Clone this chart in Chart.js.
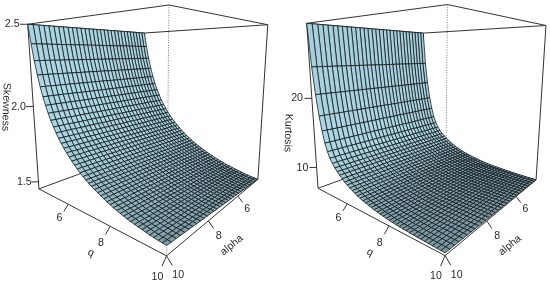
<!DOCTYPE html>
<html><head><meta charset="utf-8">
<style>html,body{margin:0;padding:0;background:#fff}canvas{position:absolute;top:0}</style>
<script src="https://cdn.jsdelivr.net/npm/chart.js@4/dist/chart.umd.js"></script></head>
<body><canvas id="a" width="275" height="285" style="left:0"></canvas><canvas id="b" width="275" height="285" style="left:275px"></canvas>
<script>
const qValues=[4.2,4.33,4.46,4.6,4.73,4.86,4.99,5.12,5.25,5.39,5.52,5.65,5.78,5.91,6.05,6.18,6.31,6.44,6.57,6.7,6.84,6.97,7.1,7.23,7.36,7.5,7.63,7.76,7.89,8.02,8.15,8.29,8.42,8.55,8.68,8.81,8.95,9.08,9.21,9.34,9.47,9.6,9.74,9.87,10];
const alphaValues=[4.2,4.39,4.59,4.78,4.97,5.17,5.36,5.55,5.75,5.94,6.13,6.33,6.52,6.71,6.91,7.1,7.29,7.49,7.68,7.87,8.07,8.26,8.45,8.65,8.84,9.03,9.23,9.42,9.61,9.81,10];
// skewness x 1000, one row per q, one column per alpha
const skewMilli=[
[2500,2500,2500,2500,2500,2500,2500,2500,2500,2500,2500,2500,2500,2500,2500,2500,2500,2500,2500,2500,2500,2500,2500,2500,2500,2500,2500,2500,2500,2500,2500],
[2385,2385,2385,2385,2385,2385,2385,2385,2385,2385,2385,2385,2385,2385,2385,2385,2385,2385,2385,2385,2385,2385,2385,2385,2385,2385,2385,2385,2385,2385,2385],
[2285,2285,2285,2285,2285,2285,2285,2285,2285,2285,2285,2285,2285,2285,2285,2285,2285,2285,2285,2285,2285,2285,2285,2285,2285,2285,2285,2285,2285,2285,2285],
[2199,2199,2199,2199,2199,2199,2199,2199,2199,2199,2199,2199,2199,2199,2199,2200,2200,2200,2200,2200,2200,2200,2200,2200,2200,2200,2200,2200,2200,2200,2200],
[2129,2129,2129,2129,2129,2129,2129,2129,2129,2129,2129,2129,2129,2129,2129,2130,2130,2130,2130,2130,2130,2130,2130,2130,2130,2130,2130,2130,2130,2130,2130],
[2070,2070,2070,2070,2070,2070,2070,2070,2071,2071,2071,2071,2071,2071,2071,2071,2071,2071,2071,2071,2071,2071,2071,2072,2072,2072,2072,2072,2072,2072,2072],
[2019,2019,2019,2019,2019,2020,2020,2020,2020,2020,2020,2020,2020,2020,2020,2021,2021,2021,2021,2021,2021,2021,2021,2021,2021,2022,2022,2022,2022,2022,2022],
[1974,1974,1974,1974,1974,1975,1975,1975,1975,1975,1975,1975,1975,1975,1975,1976,1976,1976,1976,1976,1976,1976,1976,1976,1976,1977,1977,1977,1977,1977,1977],
[1933,1933,1933,1933,1934,1934,1934,1934,1934,1934,1934,1934,1935,1935,1935,1935,1935,1935,1935,1936,1936,1936,1936,1936,1936,1936,1936,1937,1937,1937,1937],
[1896,1896,1896,1897,1897,1897,1897,1897,1897,1898,1898,1898,1898,1898,1898,1899,1899,1899,1899,1899,1899,1900,1900,1900,1900,1900,1900,1901,1901,1901,1901],
[1864,1864,1864,1865,1865,1865,1865,1865,1865,1866,1866,1866,1866,1866,1866,1867,1867,1867,1867,1867,1867,1868,1868,1868,1868,1868,1868,1869,1869,1869,1869],
[1834,1834,1834,1835,1835,1835,1835,1835,1836,1836,1836,1836,1836,1837,1837,1837,1837,1837,1838,1838,1838,1838,1838,1839,1839,1839,1839,1839,1840,1840,1840],
[1807,1807,1807,1808,1808,1808,1808,1809,1809,1809,1809,1810,1810,1810,1810,1811,1811,1811,1811,1811,1812,1812,1812,1812,1813,1813,1813,1813,1814,1814,1814],
[1782,1782,1783,1783,1783,1783,1784,1784,1784,1784,1785,1785,1785,1785,1786,1786,1786,1787,1787,1787,1787,1788,1788,1788,1788,1789,1789,1789,1789,1790,1790],
[1759,1759,1760,1760,1760,1761,1761,1761,1761,1762,1762,1762,1763,1763,1763,1764,1764,1764,1764,1765,1765,1765,1766,1766,1766,1767,1767,1767,1767,1768,1768],
[1738,1738,1739,1739,1739,1740,1740,1740,1741,1741,1741,1742,1742,1742,1743,1743,1743,1744,1744,1744,1745,1745,1745,1746,1746,1746,1747,1747,1747,1748,1748],
[1718,1718,1719,1719,1719,1720,1720,1721,1721,1721,1722,1722,1722,1723,1723,1724,1724,1724,1725,1725,1725,1726,1726,1726,1727,1727,1728,1728,1728,1729,1729],
[1699,1699,1700,1700,1701,1701,1701,1702,1702,1703,1703,1703,1704,1704,1705,1705,1705,1706,1706,1707,1707,1707,1708,1708,1709,1709,1709,1710,1710,1711,1711],
[1681,1681,1682,1682,1683,1683,1684,1684,1684,1685,1685,1686,1686,1687,1687,1688,1688,1688,1689,1689,1690,1690,1691,1691,1691,1692,1692,1693,1693,1694,1694],
[1664,1664,1665,1665,1666,1666,1667,1667,1668,1668,1669,1669,1670,1670,1671,1671,1671,1672,1672,1673,1673,1674,1674,1675,1675,1676,1676,1677,1677,1678,1678],
[1648,1649,1649,1650,1650,1651,1651,1652,1652,1653,1653,1654,1654,1655,1655,1656,1656,1657,1657,1658,1658,1659,1659,1660,1660,1661,1661,1662,1662,1663,1663],
[1634,1635,1635,1636,1636,1637,1637,1638,1638,1639,1639,1640,1640,1641,1641,1642,1643,1643,1644,1644,1645,1645,1646,1646,1647,1647,1648,1648,1649,1649,1650],
[1620,1621,1621,1622,1622,1623,1624,1624,1625,1625,1626,1627,1627,1628,1628,1629,1630,1630,1631,1631,1632,1633,1633,1634,1634,1635,1636,1636,1637,1637,1638],
[1608,1609,1609,1610,1611,1611,1612,1612,1613,1614,1614,1615,1616,1616,1617,1618,1618,1619,1619,1620,1621,1621,1622,1623,1623,1624,1624,1625,1626,1626,1627],
[1596,1597,1597,1598,1599,1599,1600,1601,1601,1602,1603,1603,1604,1605,1605,1606,1607,1607,1608,1609,1609,1610,1611,1611,1612,1613,1613,1614,1615,1615,1616],
[1585,1586,1586,1587,1588,1589,1589,1590,1591,1591,1592,1593,1593,1594,1595,1596,1596,1597,1598,1598,1599,1600,1600,1601,1602,1603,1603,1604,1605,1605,1606],
[1573,1574,1575,1575,1576,1577,1578,1578,1579,1580,1581,1581,1582,1583,1584,1585,1585,1586,1587,1588,1588,1589,1590,1591,1591,1592,1593,1594,1594,1595,1596],
[1563,1564,1565,1565,1566,1567,1568,1569,1569,1570,1571,1572,1573,1573,1574,1575,1576,1577,1577,1578,1579,1580,1581,1581,1582,1583,1584,1585,1585,1586,1587],
[1553,1554,1555,1556,1556,1557,1558,1559,1560,1561,1561,1562,1563,1564,1565,1566,1566,1567,1568,1569,1570,1571,1571,1572,1573,1574,1575,1576,1576,1577,1578],
[1543,1544,1545,1546,1547,1548,1548,1549,1550,1551,1552,1553,1554,1555,1556,1557,1557,1558,1559,1560,1561,1562,1563,1564,1565,1566,1566,1567,1568,1569,1570],
[1534,1535,1536,1537,1538,1539,1540,1541,1541,1542,1543,1544,1545,1546,1547,1548,1549,1550,1551,1552,1553,1554,1555,1555,1556,1557,1558,1559,1560,1561,1562],
[1525,1526,1527,1528,1529,1530,1531,1532,1533,1534,1535,1536,1537,1538,1539,1540,1541,1542,1543,1544,1545,1546,1547,1548,1549,1550,1551,1552,1553,1554,1555],
[1517,1518,1519,1520,1521,1522,1523,1524,1525,1526,1527,1528,1529,1530,1531,1533,1534,1535,1536,1537,1538,1539,1540,1541,1542,1543,1544,1545,1546,1547,1548],
[1510,1511,1512,1513,1514,1515,1516,1517,1519,1520,1521,1522,1523,1524,1525,1526,1527,1528,1529,1530,1531,1532,1533,1535,1536,1537,1538,1539,1540,1541,1542],
[1502,1503,1504,1505,1507,1508,1509,1510,1511,1512,1513,1514,1516,1517,1518,1519,1520,1521,1522,1524,1525,1526,1527,1528,1529,1530,1531,1533,1534,1535,1536],
[1496,1497,1498,1500,1501,1502,1503,1504,1505,1507,1508,1509,1510,1511,1512,1514,1515,1516,1517,1518,1519,1521,1522,1523,1524,1525,1526,1528,1529,1530,1531],
[1489,1490,1491,1493,1494,1495,1496,1498,1499,1500,1501,1503,1504,1505,1506,1508,1509,1510,1511,1512,1514,1515,1516,1517,1519,1520,1521,1522,1524,1525,1526],
[1483,1484,1486,1487,1488,1490,1491,1492,1493,1495,1496,1497,1499,1500,1501,1503,1504,1505,1506,1508,1509,1510,1512,1513,1514,1516,1517,1518,1519,1521,1522],
[1478,1479,1481,1482,1483,1485,1486,1487,1489,1490,1491,1493,1494,1495,1497,1498,1499,1501,1502,1503,1505,1506,1507,1509,1510,1511,1513,1514,1515,1517,1518],
[1472,1473,1475,1476,1478,1479,1480,1482,1483,1485,1486,1487,1489,1490,1492,1493,1494,1496,1497,1499,1500,1501,1503,1504,1506,1507,1508,1510,1511,1513,1514],
[1467,1468,1470,1471,1473,1474,1476,1477,1478,1480,1481,1483,1484,1486,1487,1489,1490,1491,1493,1494,1496,1497,1499,1500,1501,1503,1504,1506,1507,1509,1510],
[1462,1464,1465,1467,1468,1470,1471,1473,1474,1476,1477,1479,1480,1482,1483,1485,1486,1488,1489,1491,1492,1494,1495,1497,1498,1500,1501,1503,1504,1506,1507],
[1457,1459,1460,1462,1463,1465,1466,1468,1470,1471,1473,1474,1476,1477,1479,1481,1482,1484,1485,1487,1488,1490,1491,1493,1495,1496,1498,1499,1501,1502,1504],
[1454,1456,1457,1459,1460,1462,1464,1465,1467,1468,1470,1472,1473,1475,1476,1478,1480,1481,1483,1484,1486,1488,1489,1491,1492,1494,1496,1497,1499,1500,1502],
[1450,1452,1453,1455,1457,1458,1460,1462,1463,1465,1467,1468,1470,1472,1473,1475,1477,1478,1480,1482,1483,1485,1487,1488,1490,1492,1493,1495,1497,1498,1500]];
// kurtosis x 100, one row per q, one column per alpha
const kurtCenti=[
[3000,3000,3000,3000,3000,3000,3000,3000,3000,3000,3000,3000,3000,3000,3000,3000,3000,3000,3000,3000,3000,3000,3000,3000,3000,3000,3000,3000,3000,3000,3000],
[2430,2430,2430,2430,2430,2430,2430,2430,2430,2430,2430,2430,2430,2430,2430,2430,2430,2430,2430,2430,2430,2430,2430,2430,2430,2430,2430,2430,2430,2430,2430],
[2060,2060,2060,2060,2060,2060,2060,2060,2060,2060,2060,2060,2060,2060,2060,2060,2060,2060,2060,2060,2060,2060,2060,2060,2060,2060,2060,2060,2060,2060,2060],
[1769,1769,1769,1769,1769,1769,1769,1769,1769,1769,1769,1769,1769,1769,1769,1770,1770,1770,1770,1770,1770,1770,1770,1770,1770,1770,1770,1770,1770,1770,1770],
[1569,1569,1569,1569,1569,1569,1569,1569,1569,1569,1569,1569,1569,1569,1569,1570,1570,1570,1570,1570,1570,1570,1570,1570,1570,1570,1570,1570,1570,1570,1570],
[1409,1409,1409,1409,1409,1409,1409,1409,1409,1409,1409,1409,1409,1409,1409,1410,1410,1410,1410,1410,1410,1410,1410,1410,1410,1410,1410,1410,1410,1410,1410],
[1298,1298,1298,1298,1298,1298,1298,1298,1299,1299,1299,1299,1299,1299,1299,1299,1299,1299,1299,1299,1299,1299,1299,1300,1300,1300,1300,1300,1300,1300,1300],
[1218,1218,1218,1218,1218,1218,1218,1218,1219,1219,1219,1219,1219,1219,1219,1219,1219,1219,1219,1219,1219,1219,1219,1220,1220,1220,1220,1220,1220,1220,1220],
[1158,1158,1158,1158,1158,1158,1158,1158,1159,1159,1159,1159,1159,1159,1159,1159,1159,1159,1159,1159,1159,1159,1159,1160,1160,1160,1160,1160,1160,1160,1160],
[1107,1107,1107,1107,1107,1108,1108,1108,1108,1108,1108,1108,1108,1108,1108,1109,1109,1109,1109,1109,1109,1109,1109,1109,1109,1110,1110,1110,1110,1110,1110],
[1067,1067,1067,1067,1067,1068,1068,1068,1068,1068,1068,1068,1068,1068,1068,1069,1069,1069,1069,1069,1069,1069,1069,1069,1069,1070,1070,1070,1070,1070,1070],
[1031,1031,1031,1031,1032,1032,1032,1032,1032,1032,1032,1032,1033,1033,1033,1033,1033,1033,1033,1034,1034,1034,1034,1034,1034,1034,1034,1035,1035,1035,1035],
[996,996,996,996,997,997,997,997,997,997,997,997,998,998,998,998,998,998,998,999,999,999,999,999,999,999,999,1000,1000,1000,1000],
[965,965,965,966,966,966,966,966,966,967,967,967,967,967,967,968,968,968,968,968,968,969,969,969,969,969,969,970,970,970,970],
[940,940,940,941,941,941,941,941,941,942,942,942,942,942,942,943,943,943,943,943,943,944,944,944,944,944,944,945,945,945,945],
[914,914,914,915,915,915,915,915,916,916,916,916,916,917,917,917,917,917,918,918,918,918,918,919,919,919,919,919,920,920,920],
[893,893,893,894,894,894,894,895,895,895,895,896,896,896,896,897,897,897,897,897,898,898,898,898,899,899,899,899,900,900,900],
[873,873,873,874,874,874,874,875,875,875,875,876,876,876,876,877,877,877,877,877,878,878,878,878,879,879,879,879,880,880,880],
[854,854,855,855,855,855,856,856,856,856,857,857,857,857,858,858,858,859,859,859,859,860,860,860,860,861,861,861,861,862,862],
[837,837,838,838,838,839,839,839,839,840,840,840,841,841,841,842,842,842,842,843,843,843,844,844,844,845,845,845,845,846,846],
[823,823,824,824,824,825,825,825,825,826,826,826,827,827,827,828,828,828,828,829,829,829,830,830,830,831,831,831,831,832,832],
[810,810,811,811,811,812,812,812,813,813,813,814,814,814,815,815,815,816,816,816,817,817,817,818,818,818,819,819,819,820,820],
[797,797,798,798,798,799,799,800,800,800,801,801,801,802,802,803,803,803,804,804,804,805,805,805,806,806,807,807,807,808,808],
[786,786,787,787,787,788,788,789,789,789,790,790,790,791,791,792,792,792,793,793,793,794,794,794,795,795,796,796,796,797,797],
[775,775,776,776,777,777,777,778,778,779,779,779,780,780,781,781,781,782,782,783,783,783,784,784,785,785,785,786,786,787,787],
[765,765,766,766,767,767,768,768,768,769,769,770,770,771,771,772,772,772,773,773,774,774,775,775,775,776,776,777,777,778,778],
[756,756,757,757,758,758,759,759,760,760,761,761,762,762,763,763,763,764,764,765,765,766,766,767,767,768,768,769,769,770,770],
[749,749,750,750,751,751,752,752,753,753,754,754,755,755,756,756,756,757,757,758,758,759,759,760,760,761,761,762,762,763,763],
[741,742,742,743,743,744,744,745,745,746,746,747,747,748,748,749,749,750,750,751,751,752,752,753,753,754,754,755,755,756,756],
[734,735,735,736,736,737,737,738,738,739,739,740,740,741,741,742,743,743,744,744,745,745,746,746,747,747,748,748,749,749,750],
[728,729,729,730,730,731,731,732,733,733,734,734,735,735,736,737,737,738,738,739,739,740,740,741,742,742,743,743,744,744,745],
[723,724,724,725,725,726,727,727,728,728,729,730,730,731,731,732,733,733,734,734,735,736,736,737,737,738,739,739,740,740,741],
[718,719,719,720,721,721,722,722,723,724,724,725,726,726,727,728,728,729,729,730,731,731,732,733,733,734,734,735,736,736,737],
[714,715,715,716,717,717,718,718,719,720,720,721,722,722,723,724,724,725,725,726,727,727,728,729,729,730,730,731,732,732,733],
[710,711,711,712,713,713,714,715,715,716,717,717,718,719,719,720,721,721,722,723,723,724,725,725,726,727,727,728,729,729,730],
[706,707,707,708,709,710,710,711,712,712,713,714,714,715,716,717,717,718,719,719,720,721,721,722,723,724,724,725,726,726,727],
[702,703,703,704,705,706,706,707,708,709,709,710,711,712,712,713,714,714,715,716,717,717,718,719,720,720,721,722,723,723,724],
[699,700,701,701,702,703,704,704,705,706,707,707,708,709,710,711,711,712,713,714,714,715,716,717,717,718,719,720,720,721,722],
[696,697,698,698,699,700,701,702,702,703,704,705,706,706,707,708,709,710,710,711,712,713,714,714,715,716,717,718,718,719,720],
[693,694,695,696,696,697,698,699,700,701,701,702,703,704,705,706,706,707,708,709,710,711,711,712,713,714,715,716,716,717,718],
[690,691,692,693,693,694,695,696,697,698,699,700,700,701,702,703,704,705,706,706,707,708,709,710,711,712,713,713,714,715,716],
[687,688,689,690,691,692,692,693,694,695,696,697,698,699,700,701,701,702,703,704,705,706,707,708,709,710,710,711,712,713,714],
[684,685,686,687,688,689,690,691,691,692,693,694,695,696,697,698,699,700,701,702,703,704,705,705,706,707,708,709,710,711,712],
[682,683,684,685,686,687,688,689,690,691,692,693,694,695,696,697,697,698,699,700,701,702,703,704,705,706,707,708,709,710,711],
[680,681,682,683,684,685,686,687,688,689,690,691,692,693,694,695,696,697,698,699,700,701,702,703,704,705,706,707,708,709,710]];
const qTicks=[6,8,10],alphaTicks=[6,8,10],skewTicks=[1.5,2,2.5],kurtTicks=[10,20];
const FONT='10.6px "Liberation Sans",Arial,sans-serif';
function fit(anch){
  const U=[[0,1,0],[1,1,0],[1,0,0],[0,0,0],[0,1,1],[1,1,1],[1,0,1],[0,0,1]];
  const N=Array.from({length:11},()=>Array(12).fill(0));
  U.forEach((p,i)=>{const [x,y]=anch[i],[a,b,c]=p;
    const r1=[a,b,c,1,0,0,0,0,-x*a,-x*b,-x*c,x],r2=[0,0,0,0,a,b,c,1,-y*a,-y*b,-y*c,y];
    [r1,r2].forEach(r=>{for(let m=0;m<11;m++)for(let n=0;n<12;n++)N[m][n]+=r[m]*r[n];});});
  for(let i=0;i<11;i++){let p=i;for(let k=i;k<11;k++)if(Math.abs(N[k][i])>Math.abs(N[p][i]))p=k;[N[i],N[p]]=[N[p],N[i]];
    for(let k=0;k<11;k++)if(k!==i){const f=N[k][i]/N[i][i];for(let n=i;n<12;n++)N[k][n]-=f*N[i][n];}}
  return N.map((r,i)=>r[11]/r[i]);
}
const MIN=4.2,SPAN=5.8,TICK=.03,LABEL=.06,Q_TITLE=.1,ALPHA_TITLE=.11,Q_TITLE_AT=7.85,ALPHA_TITLE_AT=7.75;
function panel(id,cfg){
  const P=fit(cfg.anchors),zr=cfg.zmax-cfg.zmin;
  const pr=(q,al,z)=>{const a=(q-MIN)/SPAN,b=(al-MIN)/SPAN,c=(z-cfg.zmin)/zr,d=P[8]*a+P[9]*b+P[10]*c+1;
    return {x:(P[0]*a+P[1]*b+P[2]*c+P[3])/d,y:(P[4]*a+P[5]*b+P[6]*c+P[7])/d};};
  const ds=[];
  const seg=(pts,o={})=>ds.push(Object.assign({type:'line',data:pts,parsing:false,pointRadius:0,borderWidth:1,borderColor:'#333',tension:0,fill:false,clip:false},o));
  const Z0=cfg.zmin,Z1=cfg.zmax;
  const c=pr;
  const qOut=(t,k)=>pr(t,10+k*SPAN,Z0-k*zr),aOut=(t,k)=>pr(10+k*SPAN,t,Z0-k*zr),zOut=(t,k)=>pr(MIN-k*SPAN,10+k*SPAN,t);
  seg([c(MIN,10,Z0),c(MIN,MIN,Z0),c(10,MIN,Z0)]);
  seg([c(MIN,MIN,Z0),c(MIN,MIN,Z1)]);
  seg([c(10,10,Z0),c(10,10,Z1)],{borderDash:[1,1.5],borderColor:'#777'});
  seg([c(MIN,10,Z1),c(10,10,Z1),c(10,MIN,Z1),c(MIN,MIN,Z1),c(MIN,10,Z1)]);
  seg([c(MIN,10,Z0),c(MIN,10,Z1)]);seg([c(10,MIN,Z0),c(10,MIN,Z1)]);
  const G=cfg.grid.map(r=>r.map(v=>v/cfg.unit)),L=[.9,0,.43];
  for(let i=0;i<qValues.length-1;i++)for(let j=0;j<alphaValues.length-1;j++){
    const q0=qValues[i],q1=qValues[i+1],a0=alphaValues[j],a1=alphaValues[j+1];
    const z00=G[i][j],z01=G[i][j+1],z10=G[i+1][j],z11=G[i+1][j+1];
    const wu=((z10+z11-z00-z01)/2/zr)/((q1-q0)/SPAN),wv=((z01+z11-z00-z10)/2/zr)/((a1-a0)/SPAN);
    const m=Math.hypot(wu,wv,1),d=(-wu*L[0]-wv*L[1]+L[2])/m,f=Math.pow((1+d)/2,1.1);
    seg([c(q0,a0,z00),c(q0,a1,z01),c(q1,a1,z11),c(q1,a0,z10),c(q0,a0,z00)],{fill:'shape',backgroundColor:`rgb(${173*f|0},${216*f|0},${230*f|0})`,borderColor:'#0d1114',borderWidth:.75});
  }
  seg([c(MIN,10,Z0),c(10,10,Z0),c(10,MIN,Z0)]);
  qTicks.forEach(t=>seg([pr(t,10,Z0),qOut(t,TICK)]));
  alphaTicks.forEach(t=>seg([pr(10,t,Z0),aOut(t,TICK)]));
  cfg.zTicks.forEach(t=>seg([pr(MIN,10,t),zOut(t,TICK)]));
  ds.reverse();
  const labels={id:'lab',afterDraw(ch){const x=ch.scales.x,y=ch.scales.y,g=ch.ctx;
    g.save();g.font=FONT;g.fillStyle='#2a2a2a';g.textAlign='center';g.textBaseline='middle';
    const put=(s,p,rot=0)=>{g.save();g.translate(x.getPixelForValue(p.x),y.getPixelForValue(p.y));g.rotate(rot);g.fillText(s,0,0);g.restore();};
    qTicks.forEach(t=>put(String(t),qOut(t,LABEL)));
    alphaTicks.forEach(t=>put(String(t),aOut(t,LABEL)));
    cfg.zTicks.forEach(t=>put(cfg.zFmt(t),zOut(t,LABEL)));
    put('q',qOut(Q_TITLE_AT,Q_TITLE),0.5);put('alpha',aOut(ALPHA_TITLE_AT,ALPHA_TITLE),-0.68);
    const e=cfg.zTitle;put(cfg.zName,{x:e[0],y:e[1]},Math.PI/2+.03);
    g.restore();}};
  new Chart(document.getElementById(id),{type:'line',data:{datasets:ds},plugins:[labels],options:{responsive:false,animation:false,events:[],layout:{padding:0},
    plugins:{legend:{display:false},tooltip:{enabled:false}},
    scales:{x:{type:'linear',display:false,min:0,max:275},y:{type:'linear',display:false,min:0,max:285,reverse:true}}}});
}
panel('a',{grid:skewMilli,unit:1000,zmin:1.45,zmax:2.5,zTicks:skewTicks,zFmt:t=>t.toFixed(1),zName:'Skewness',zTitle:[6,107],
 anchors:[[39,189],[166,256],[258,179],[145,150],[28,24],[169,5],[268,25],[144,33]]});
panel('b',{grid:kurtCenti,unit:100,zmin:6.8,zmax:30,zTicks:kurtTicks,zFmt:t=>String(t),zName:'Kurtosis',zTitle:[13,133],
 anchors:[[42.7,188],[170.7,255.7],[260.7,180],[149,150],[31.7,23.3],[172.3,5],[271,25],[148.3,33.3]]});
</script></body></html>
